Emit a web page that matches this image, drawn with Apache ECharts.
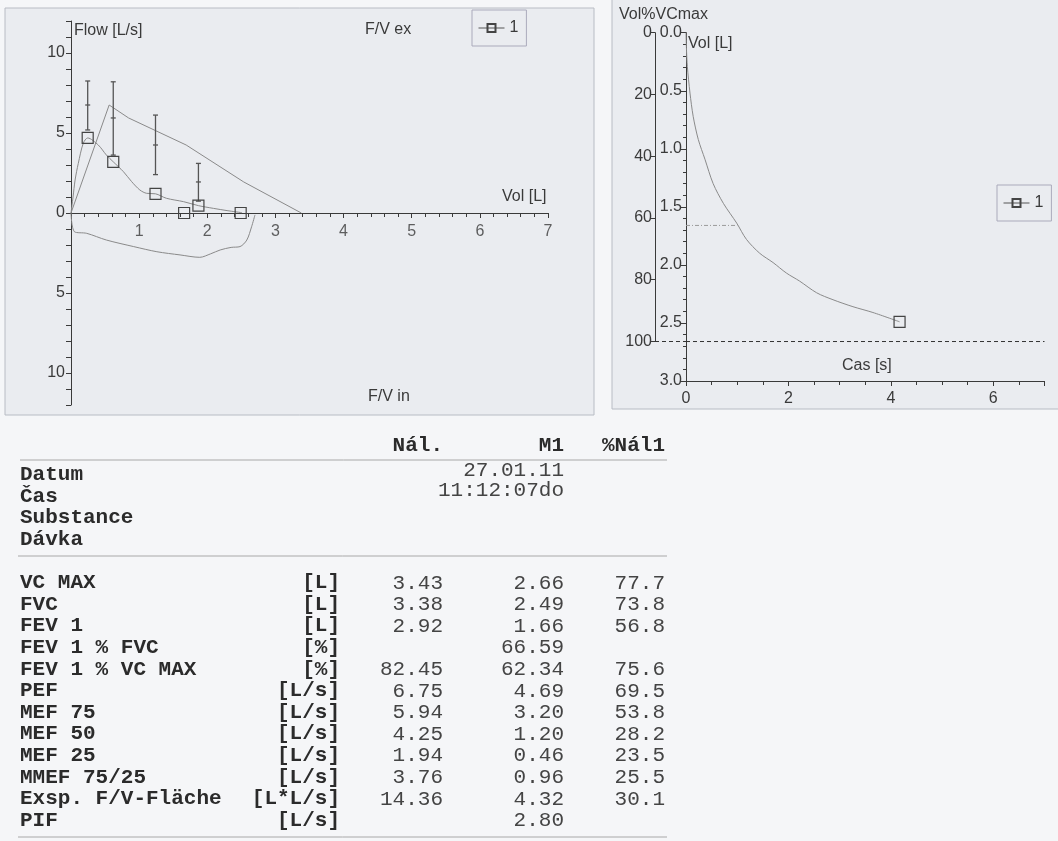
<!DOCTYPE html>
<html><head><meta charset="utf-8">
<script src="https://cdn.jsdelivr.net/npm/echarts@6/dist/echarts.min.js"></script>
<style>html,body{margin:0;padding:0;background:#f5f6f8}#c{width:1058px;height:841px}</style>
</head><body><div id="c"></div>
<script>
// ---------- Flow / volume (left chart) ----------
const expVol  = [0, 0.03, 0.06, 0.107, 0.18, 0.245, 0.40, 0.52, 0.62, 0.77, 0.89, 1.01, 1.11, 1.24, 1.40, 1.65, 1.87, 2.09, 2.29, 2.51];
const expFlow = [0, 1.0, 2.06, 3.1, 4.36, 4.69, 4.25, 3.62, 3.20, 2.58, 1.96, 1.44, 1.23, 1.20, 0.92, 0.71, 0.46, 0.29, 0.15, 0.02];
const inspVol  = [0, 0.05, 0.23, 0.52, 0.92, 1.26, 1.60, 1.89, 2.05, 2.19, 2.35, 2.48, 2.58, 2.65, 2.70];
const inspFlow = [0, -1.17, -1.27, -1.69, -2.10, -2.42, -2.62, -2.77, -2.55, -2.31, -2.15, -2.10, -1.69, -0.86, -0.12];
const predVol  = [0, 0.56, 0.845, 1.69, 2.535, 3.38];
const predFlow = [0, 6.75, 5.94, 4.25, 1.94, 0];
const markVol  = [0.245, 0.62, 1.24, 1.66, 1.87, 2.49];
const markFlow = [4.69, 3.20, 1.20, 0, 0.46, 0];
const errVol   = [0.245, 0.62, 1.24, 1.87];
const errMid   = [6.75, 5.94, 4.25, 1.94];
const errLow   = [5.19, 3.62, 2.40, 0.74];
const errHigh  = [8.25, 8.20, 6.12, 3.10];
const volTickLabels = [1, 2, 3, 4, 5, 6, 7];

// ---------- Volume / time (right chart) ----------
const vtTime = [0, 0.01, 0.026, 0.078, 0.14, 0.24, 0.37, 0.53, 0.73, 0.99, 1.18, 1.44, 1.70, 1.96, 2.22, 2.55, 2.87, 3.26, 3.65, 4.17];
const vtVol  = [0, 0.15, 0.29, 0.52, 0.72, 0.92, 1.09, 1.30, 1.47, 1.64, 1.78, 1.90, 1.98, 2.07, 2.14, 2.24, 2.30, 2.36, 2.41, 2.49];
const vcMax = 2.66;
const fev1 = 1.66;
const fev1Time = 1;
const timeMax = 7;

// ---------- Table ----------
const headerCols = ['Nál.', 'M1', '%Nál1'];
const infoLabels = ['Datum', 'Čas', 'Substance', 'Dávka'];
const infoValues = ['27.01.11', '11:12:07do'];
const tblLabels = ['VC MAX','FVC','FEV 1','FEV 1 % FVC','FEV 1 % VC MAX','PEF','MEF 75','MEF 50','MEF 25','MMEF 75/25','Exsp. F/V-Fläche','PIF'];
const tblUnits  = ['[L]','[L]','[L]','[%]','[%]','[L/s]','[L/s]','[L/s]','[L/s]','[L/s]','[L*L/s]','[L/s]'];
const tblNal    = ['3.43','3.38','2.92','','82.45','6.75','5.94','4.25','1.94','3.76','14.36',''];
const tblM1     = ['2.66','2.49','1.66','66.59','62.34','4.69','3.20','1.20','0.46','0.96','4.32','2.80'];
const tblPct    = ['77.7','73.8','56.8','','75.6','69.5','53.8','28.2','23.5','25.5','30.1',''];

const zip = (a, b) => a.map((v, i) => [v, b[i]]);
const PANEL = '#eaecf0';
const AX = '#3a3a3a';
const CURVE = '#8a8a8a';
const sans = '"Liberation Sans", Arial, sans-serif';
const mono = '"Liberation Mono", "Courier New", monospace';

// graphic elements: panels, axis titles, table
const g = [];
g.push({type:'rect', shape:{x:5, y:8, width:589, height:407}, style:{fill:PANEL, stroke:'#b8bcc4', lineWidth:1}, z:-100});
g.push({type:'rect', shape:{x:612, y:-5, width:460, height:414}, style:{fill:PANEL, stroke:'#b8bcc4', lineWidth:1}, z:-100});
function txt(x, y, text, font, fill, align) {
  g.push({type:'text', x:x, y:y, z:100, style:{text:text, font:font, fill:fill||'#333', align:align||'left', verticalAlign:'middle', textAlign:align||'left', textVerticalAlign:'middle'}});
}
const tf = '16px ' + sans;
txt(74, 31, 'Flow [L/s]', tf, AX);
txt(365, 30, 'F/V ex', tf, AX);
txt(502, 197, 'Vol [L]', tf, AX);
txt(368, 397, 'F/V in', tf, AX);
txt(619, 15, 'Vol%VCmax', tf, AX);
txt(688, 44, 'Vol [L]', tf, AX);
txt(842, 366, 'Cas [s]', tf, AX);

// table
const bold = 'bold 21px ' + mono, reg = '21px ' + mono;
const colR = [443, 564, 665];
const labX = 20, unitR = 340;
headerCols.forEach((h, i) => txt(colR[i], 446, h, bold, '#2b2b2b', 'right'));
infoLabels.forEach((l, i) => txt(labX, 475 + i * 21.6, l, bold, '#2b2b2b'));
infoValues.forEach((v, i) => txt(colR[1], 470 + i * 20.6, v, reg, '#444', 'right'));
tblLabels.forEach((l, i) => {
  const y = 583 + i * 21.6;
  txt(labX, y, l, bold, '#2b2b2b');
  txt(unitR, y, tblUnits[i], bold, '#2b2b2b', 'right');
  txt(colR[0], y, tblNal[i], reg, '#444', 'right');
  txt(colR[1], y, tblM1[i], reg, '#444', 'right');
  txt(colR[2], y, tblPct[i], reg, '#444', 'right');
});
[[20, 460], [18, 556], [18, 837]].forEach(p => g.push({type:'line', shape:{x1:p[0], y1:p[1], x2:667, y2:p[1]}, style:{stroke:'#a8a8a8', lineWidth:1}, z:50}));

const chart = echarts.init(document.getElementById('c'));
const axisCommon = {
  axisLine:{show:true, onZero:false, lineStyle:{color:AX, width:1}},
  axisTick:{show:true, length:5, lineStyle:{color:AX}},
  splitLine:{show:false},
  axisLabel:{color:AX, fontSize:16, fontFamily:sans}
};
chart.setOption({
  backgroundColor:'#f5f6f8',
  animation:false,
  graphic: g,
  legend:[
    {data:['1'], left:472, top:10, padding:[10,8,10,6], itemWidth:26, itemHeight:10, itemGap:6,
     borderColor:'#aab', borderWidth:1, textStyle:{color:AX, fontSize:16, fontFamily:sans},
     lineStyle:{color:'#555', width:1, opacity:1}, selectedMode:false},
    {data:['1'], left:997, top:185, padding:[10,8,10,6], itemWidth:26, itemHeight:10, itemGap:6,
     borderColor:'#aab', borderWidth:1, textStyle:{color:AX, fontSize:16, fontFamily:sans},
     lineStyle:{color:'#555', width:1, opacity:1}, selectedMode:false}
  ],
  grid:[
    {left:71, top:21, width:477, height:384},
    {left:686, top:32.7, width:358.5, height:348.3},
    {left:655, top:32.7, width:31, height:308.8}
  ],
  xAxis:[
    Object.assign({}, axisCommon, {gridIndex:0, type:'value', min:0, max:7, interval:1,
      axisLine:{show:true, onZero:true, lineStyle:{color:AX}},
      minorTick:{show:true, splitNumber:5, length:4, lineStyle:{color:AX}},
      axisLabel:{show:false}}),
    Object.assign({}, axisCommon, {gridIndex:1, type:'value', min:0, max:timeMax, interval:2, position:'bottom',
      minorTick:{show:true, splitNumber:4, length:4, lineStyle:{color:AX}},
      axisLabel:{color:AX, fontSize:16, fontFamily:sans, margin:10, formatter:v => (v % 2 === 0) ? String(v) : ''}}),
    {gridIndex:2, type:'value', min:0, max:1, show:false}
  ],
  yAxis:[
    Object.assign({}, axisCommon, {gridIndex:0, type:'value', min:-12, max:12, interval:1,
      axisLabel:{color:AX, fontSize:16, fontFamily:sans, margin:6, formatter:v => (v % 5 === 0) ? String(Math.abs(v)) : ''}}),
    Object.assign({}, axisCommon, {gridIndex:1, type:'value', min:0, max:3, interval:0.5, inverse:true,
      axisTick:{show:true, length:5, lineStyle:{color:AX}},
      minorTick:{show:true, splitNumber:5, length:3, lineStyle:{color:AX}},
      axisLabel:{color:AX, fontSize:16, fontFamily:sans, margin:4, formatter:v => v.toFixed(1)}}),
    Object.assign({}, axisCommon, {gridIndex:2, type:'value', min:0, max:100, interval:20, inverse:true,
      axisTick:{show:true, length:5, lineStyle:{color:AX}},
      axisLabel:{color:AX, fontSize:16, fontFamily:sans, margin:3}})
  ],
  series:[
    // x tick labels on the zero line of the flow/volume chart
    {type:'scatter', xAxisIndex:0, yAxisIndex:0, symbolSize:0, silent:true,
      data: volTickLabels.map(v => [v, 0]),
      label:{show:true, position:'bottom', distance:11, formatter:p => String(p.value[0]), color:AX, fontSize:16, fontFamily:sans}},
    {type:'line', xAxisIndex:0, yAxisIndex:0, data:zip(predVol, predFlow), symbol:'none', lineStyle:{color:CURVE, width:1}, z:3},
    {type:'line', xAxisIndex:0, yAxisIndex:0, data:zip(expVol, expFlow), symbol:'none', smooth:0.3, lineStyle:{color:CURVE, width:1}, z:3},
    {type:'line', xAxisIndex:0, yAxisIndex:0, data:zip(inspVol, inspFlow), symbol:'none', smooth:0.3, lineStyle:{color:CURVE, width:1}, z:3},
    {type:'custom', xAxisIndex:0, yAxisIndex:0, z:4,
      data: errVol.map((x, i) => [x, errLow[i], errHigh[i], errMid[i]]),
      renderItem: (params, api) => {
        const lo = api.coord([api.value(0), api.value(1)]);
        const hi = api.coord([api.value(0), api.value(2)]);
        const md = api.coord([api.value(0), api.value(3)]);
        const st = {stroke:'#555', lineWidth:1.3};
        const w = 2.5;
        return {type:'group', children:[
          {type:'line', shape:{x1:lo[0], y1:lo[1], x2:hi[0], y2:hi[1]}, style:st},
          {type:'line', shape:{x1:lo[0]-w, y1:lo[1], x2:lo[0]+w, y2:lo[1]}, style:st},
          {type:'line', shape:{x1:hi[0]-w, y1:hi[1], x2:hi[0]+w, y2:hi[1]}, style:st},
          {type:'line', shape:{x1:md[0]-w, y1:md[1], x2:md[0]+w, y2:md[1]}, style:st}
        ]};
      }},
    {name:'1', type:'line', xAxisIndex:0, yAxisIndex:0, data:zip(markVol, markFlow), symbol:'rect', symbolSize:11,
      showSymbol:true, lineStyle:{width:0, opacity:0}, itemStyle:{color:'rgba(0,0,0,0)', borderColor:'#444', borderWidth:1.2}, z:5},

    {name:'1', type:'line', xAxisIndex:1, yAxisIndex:1, smooth:0.3, symbol:'rect', symbolSize:11,
      data: vtTime.map((t, i) => i === vtTime.length - 1 ? {value:[t, vtVol[i]]} : {value:[t, vtVol[i]], symbol:'none'}),
      lineStyle:{color:CURVE, width:1}, itemStyle:{color:'rgba(0,0,0,0)', borderColor:'#444', borderWidth:1.2}, z:5},
    {type:'line', xAxisIndex:1, yAxisIndex:1, symbol:'none', data:[[0, fev1], [fev1Time, fev1]],
      lineStyle:{color:'#9a9a9a', width:1, type:[4,2,1,2]}, z:3},
    {type:'line', xAxisIndex:1, yAxisIndex:1, symbol:'none',
      data:[{value:[0, vcMax], label:{show:true, formatter:'VCmax', position:'right', offset:[19,-5],
             color:AX, fontSize:16, fontFamily:sans, backgroundColor:PANEL, padding:[0,1]}}, {value:[timeMax, vcMax]}],
      lineStyle:{color:'#333', width:1, type:[4,3]}, z:3},
    {type:'line', xAxisIndex:2, yAxisIndex:2, symbol:'none', data:[[0, 100], [1, 100]],
      lineStyle:{color:'#333', width:1, type:[4,3]}, z:3}
  ]
});
</script></body></html>
